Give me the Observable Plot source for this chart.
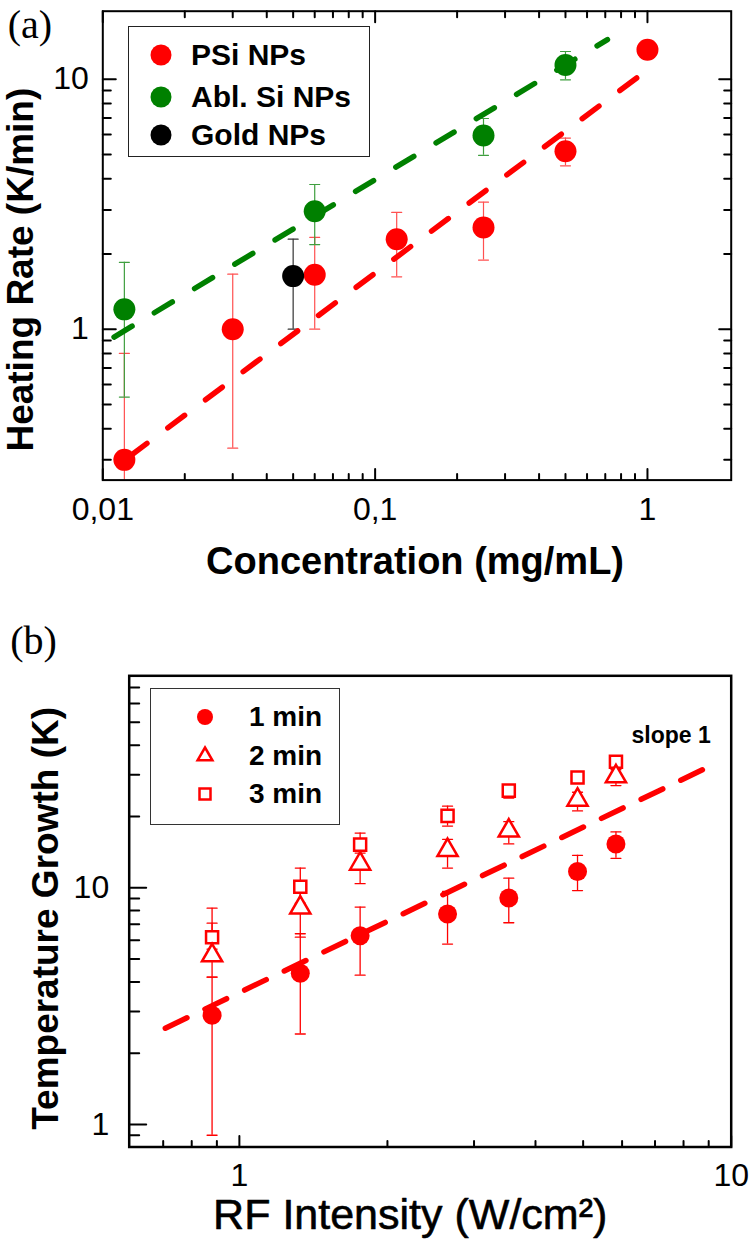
<!DOCTYPE html>
<html>
<head>
<meta charset="utf-8">
<script src="https://cdn.jsdelivr.net/npm/d3@7"></script>
<script src="https://cdn.jsdelivr.net/npm/@observablehq/plot@0.6"></script>
<style>
  body { margin: 0; background: #fff; }
  #wrap { position: relative; width: 749px; height: 1245px; overflow: hidden; background: #fff;
          font-family: "Liberation Sans", Arial, sans-serif; }
  .panel { position: absolute; left: 0; }
  .legend { position: absolute; background: #fff; box-sizing: border-box; }
  .legend .item { position: absolute; left: 0; height: 0; }
  .legend .item svg { position: absolute; overflow: visible; }
  .legend .item span { position: absolute; top: 0; transform: translateY(-50%); white-space: nowrap;
          font-weight: bold; color: #000; line-height: 1; }
</style>
</head>
<body>
<div id="wrap"></div>
<script>
// ---------------- Panel (a) data ----------------
const psiConc  = [0.012, 0.03, 0.06, 0.12, 0.25, 0.5, 1.0];
const psiRate  = [0.30, 1.00, 1.65, 2.29, 2.55, 5.15, 13.1];
const psiLow   = [0.20, 0.334, 1.00, 1.62, 1.89, 4.50, null];
const psiHigh  = [0.80, 1.66, 2.33, 2.93, 3.22, 5.81, null];

const ablConc  = [0.012, 0.06, 0.25, 0.5];
const ablRate  = [1.20, 2.96, 5.95, 11.4];
const ablLow   = [0.535, 2.18, 4.96, 9.94];
const ablHigh  = [1.85, 3.79, 6.96, 12.9];

const goldConc = [0.05];
const goldRate = [1.63];
const goldLow  = [1.00];
const goldHigh = [2.29];

const psiFitConc = [0.0126, 1.07];
const psiFitRate = [0.311, 11.5];
const ablFitConc = [0.0110, 0.713];
const ablFitRate = [0.93, 14.4];

const aLegendLabels = ["PSi NPs", "Abl. Si NPs", "Gold NPs"];
const aXTicks = [0.01, 0.1, 1];
const aXMinor = [0.02,0.03,0.04,0.05,0.06,0.07,0.08,0.09,0.2,0.3,0.4,0.5,0.6,0.7,0.8,0.9];
const aYTicks = [1, 10];
const aYMinor = [0.3,0.4,0.5,0.6,0.7,0.8,0.9,2,3,4,5,6,7,8,9];

// ---------------- Panel (b) data ----------------
const rfIntensity = [0.88, 1.33, 1.76, 2.65, 3.53, 4.87, 5.83];
const growth1     = [2.89, 4.35, 6.26, 7.74, 9.05, 11.7, 15.3];
const growth1Low  = [0.90, 2.41, 4.27, 5.78, 7.11, 9.72, 13.3];
const growth1High = [4.19, 6.39, 8.28, 9.64, 10.97, 13.7, 17.2];
const growth2     = [5.17, 8.23, 12.6, 14.4, 17.4, 23.5, 29.5];
const growth2Low  = [4.19, 6.18, 10.4, 12.1, 15.3, 21.1, 27.0];
const growth2High = [7.08, 9.80, 14.5, 16.0, 19.0, 25.3, 31.5];
const growth3     = [6.18, 10.1, 15.2, 20.1, 25.7, 29.2, 34.0];
const growth3Low  = [5.50, 8.60, 14.0, 18.2, 23.9, 28.0, 32.5];
const growth3High = [8.19, 12.1, 17.0, 22.1, 27.0, 30.4, 35.5];

const slopeFitRF     = [0.707, 9.14];
const slopeFitGrowth = [2.55, 32.9];
const slopeLabel  = ["slope 1"];
const slopeLabelX = [6.27];
const slopeLabelY = [41];

const bLegendLabels = ["1 min", "2 min", "3 min"];
const bXTicks = [1, 10];
const bXMinor = [0.7,0.8,0.9,2,3,4,5,6,7,8,9];
const bYTicks = [1, 10];
const bYMinor = [0.9,2,3,4,5,6,7,8,9,20,30,40,50,60,70];

// ---------------- helpers ----------------
const RED = "#ff0000", GREEN = "#008000";
const sans = '"Liberation Sans", Arial, sans-serif';
const serif = '"Liberation Serif", "Times New Roman", serif';
const rows = (xs, ys, lo, hi) => xs.map((x, i) => ({x, y: ys[i], lo: lo ? lo[i] : null, hi: hi ? hi[i] : null}));
const withErr = d => d.filter(r => r.lo != null && r.hi != null);
const fmt = d => String(d).replace(".", ",");

function ticks(values, side, len, sw) {
  const o = {length: len, r: 0, anchor: "start", stroke: "black", strokeWidth: sw};
  if (side === "bottom") return Plot.vector(values, {x: d => d, frameAnchor: "bottom", rotate: 0, ...o});
  if (side === "top") return Plot.vector(values, {x: d => d, frameAnchor: "top", rotate: 180, ...o});
  if (side === "left") return Plot.vector(values, {y: d => d, frameAnchor: "left", rotate: 90, ...o});
  return Plot.vector(values, {y: d => d, frameAnchor: "right", rotate: -90, ...o});
}
function errorBars(data, color, sw, cap) {
  const d = withErr(data);
  return [
    Plot.ruleX(d, {x: "x", y1: "lo", y2: "hi", stroke: color, strokeWidth: sw, clip: true}),
    Plot.vector(d, {x: "x", y: "hi", rotate: 90, length: cap, anchor: "middle", r: 0, stroke: color, strokeWidth: sw, clip: true}),
    Plot.vector(d, {x: "x", y: "lo", rotate: 90, length: cap, anchor: "middle", r: 0, stroke: color, strokeWidth: sw, clip: true})
  ];
}

const wrap = document.getElementById("wrap");

// ---------------- Panel (a) ----------------
const psi  = rows(psiConc, psiRate, psiLow, psiHigh);
const abl  = rows(ablConc, ablRate, ablLow, ablHigh);
const gold = rows(goldConc, goldRate, goldLow, goldHigh);
const psiFit = rows(psiFitConc, psiFitRate);
const ablFit = rows(ablFitConc, ablFitRate);

const plotA = Plot.plot({
  width: 749, height: 600,
  marginLeft: 102.3, marginRight: 18.3, marginTop: 10.7, marginBottom: 120.4,
  x: {type: "log", domain: [0.01, 2.03]},
  y: {type: "log", domain: [0.249, 18.7]},
  style: {fontFamily: sans, background: "transparent", color: "black", overflow: "visible"},
  marks: [
    ...errorBars(psi, "#ff5050", 1.2, 10),
    ...errorBars(abl, "#3f9f3f", 1.2, 10),
    ...errorBars(gold, "#333333", 1.2, 10),
    Plot.dot(psi, {x: "x", y: "y", r: 11, fill: RED}),
    Plot.dot(abl, {x: "x", y: "y", r: 11, fill: GREEN}),
    Plot.dot(gold, {x: "x", y: "y", r: 11, fill: "#000"}),
    Plot.line(ablFit, {x: "x", y: "y", stroke: GREEN, strokeWidth: 5.5, strokeDasharray: "21,26"}),
    Plot.line(psiFit, {x: "x", y: "y", stroke: RED, strokeWidth: 5.5, strokeDasharray: "21,26"}),
    ticks(aXTicks, "bottom", 11, 2), ticks(aXMinor, "bottom", 6, 2),
    ticks(aXTicks, "top", 11, 2), ticks(aXMinor, "top", 6, 2),
    ticks(aYTicks, "left", 13, 2), ticks(aYMinor, "left", 8, 2),
    ticks(aYTicks, "right", 12, 2), ticks(aYMinor, "right", 7, 2),
    Plot.frame({stroke: "black", strokeWidth: 2}),
    Plot.axisX(aXTicks, {anchor: "bottom", tickSize: 0, tickPadding: 17, tickFormat: fmt, fontSize: 32, label: null,
      stroke: "black", strokeWidth: 0.4, fill: "black"}),
    Plot.axisY(aYTicks, {anchor: "left", tickSize: 0, tickPadding: 14, tickFormat: fmt, fontSize: 32, label: null,
      stroke: "black", strokeWidth: 0.4, fill: "black"}),
    Plot.text(["Concentration (mg/mL)"], {frameAnchor: "bottom", text: d => d, dx: -2, dy: 94, lineAnchor: "bottom",
      textAnchor: "middle", fontSize: 38, fontWeight: "bold"}),
    Plot.text(["Heating Rate (K/min)"], {frameAnchor: "left", text: d => d, rotate: -90, dx: -70, dy: 24,
      textAnchor: "middle", lineAnchor: "bottom", fontSize: 37, fontWeight: "bold"}),
    Plot.text(["(a)"], {frameAnchor: "top-left", text: d => d, dx: -95, dy: 26.5, textAnchor: "start",
      lineAnchor: "bottom", fontSize: 40, fontFamily: serif})
  ]
});
const pa = document.createElement("div");
pa.className = "panel"; pa.style.top = "0px";
pa.appendChild(plotA);
wrap.appendChild(pa);

// ---------------- Panel (b) ----------------
const g1 = rows(rfIntensity, growth1, growth1Low, growth1High);
const g2 = rows(rfIntensity, growth2, growth2Low, growth2High);
const g3 = rows(rfIntensity, growth3, growth3Low, growth3High);
const slopeFit = rows(slopeFitRF, slopeFitGrowth);
const slopeText = slopeLabel.map((t, i) => ({t, x: slopeLabelX[i], y: slopeLabelY[i]}));

const plotB = Plot.plot({
  width: 749, height: 645,
  marginLeft: 128.7, marginRight: 18.3, marginTop: 75.3, marginBottom: 98.5,
  x: {type: "log", domain: [0.597, 10]},
  y: {type: "log", domain: [0.803, 78.5]},
  style: {fontFamily: sans, background: "transparent", color: "black", overflow: "visible"},
  marks: [
    ...errorBars(g3, RED, 1.3, 10),
    ...errorBars(g2, RED, 1.3, 10),
    ...errorBars(g1, RED, 1.3, 10),
    Plot.dot(g3, {x: "x", y: "y", symbol: "square", r: 6.8, stroke: RED, strokeWidth: 2.5, fill: "white"}),
    Plot.dot(g2, {x: "x", y: "y", symbol: "triangle", r: 7.5, stroke: RED, strokeWidth: 2.5, fill: "white"}),
    Plot.dot(g1, {x: "x", y: "y", r: 9.5, fill: RED}),
    Plot.line(slopeFit, {x: "x", y: "y", stroke: RED, strokeWidth: 5.5, strokeDasharray: "24,20"}),
    Plot.text(slopeText, {x: "x", y: "y", text: "t", textAnchor: "start", lineAnchor: "bottom",
      fontSize: 23, fontWeight: "bold"}),
    ticks(bXTicks, "bottom", 11, 2), ticks(bXMinor, "bottom", 6, 2),
    ticks(bYTicks, "left", 17, 2), ticks(bYMinor, "left", 10, 2),
    Plot.frame({stroke: "black", strokeWidth: 2.5}),
    Plot.axisX(bXTicks, {anchor: "bottom", tickSize: 0, tickPadding: 16, tickFormat: fmt, fontSize: 32, label: null,
      stroke: "black", strokeWidth: 0.4, fill: "black"}),
    Plot.axisY(bYTicks, {anchor: "left", tickSize: 0, tickPadding: 20, tickFormat: fmt, fontSize: 32, label: null,
      stroke: "black", strokeWidth: 0.4, fill: "black"}),
    Plot.text(["RF Intensity (W/cm²)"], {frameAnchor: "bottom", text: d => d, dx: -20, dy: 81.5, lineAnchor: "bottom",
      textAnchor: "middle", fontSize: 43, fill: "black", stroke: "black", strokeWidth: 0.6}),
    Plot.text(["Temperature Growth (K)"], {frameAnchor: "left", text: d => d, rotate: -90, dx: -71, dy: 7,
      textAnchor: "middle", lineAnchor: "bottom", fontSize: 37, fontWeight: "bold"}),
    Plot.text(["(b)"], {frameAnchor: "top-left", text: d => d, dx: -119, dy: -21.5, textAnchor: "start",
      lineAnchor: "bottom", fontSize: 40, fontFamily: serif})
  ]
});
const pb = document.createElement("div");
pb.className = "panel"; pb.style.top = "600px";
pb.appendChild(plotB);
wrap.appendChild(pb);

// ---------------- Legends (HTML overlays) ----------------
function makeLegend(box, items) {
  const lg = document.createElement("div");
  lg.className = "legend";
  Object.assign(lg.style, {left: box.left + "px", top: box.top + "px", width: box.width + "px",
    height: box.height + "px", border: box.border});
  items.forEach(it => {
    const row = document.createElement("div");
    row.className = "item";
    row.style.top = it.y + "px";
    row.style.width = "100%";
    const svg = document.createElementNS("http://www.w3.org/2000/svg", "svg");
    svg.setAttribute("width", 1); svg.setAttribute("height", 1);
    svg.style.left = it.mx + "px"; svg.style.top = "0px";
    svg.innerHTML = it.marker;
    row.appendChild(svg);
    const sp = document.createElement("span");
    sp.textContent = it.label;
    sp.style.left = it.tx + "px";
    sp.style.fontSize = it.fs + "px";
    row.appendChild(sp);
    lg.appendChild(row);
  });
  wrap.appendChild(lg);
}
const aColors = [RED, GREEN, "#000"];
makeLegend({left: 128, top: 26, width: 242, height: 131, border: "1.5px solid #222"},
  aLegendLabels.map((label, i) => ({label, y: [28, 70, 108][i], mx: 32, tx: 62, fs: 30,
    marker: `<circle cx="0" cy="0" r="10.5" fill="${aColors[i]}"/>`})));
const bMarkers = [
  `<circle cx="0" cy="0" r="8" fill="${RED}"/>`,
  `<path d="M0,-8.5L7.4,4.3L-7.4,4.3Z" fill="white" stroke="${RED}" stroke-width="2.5"/>`,
  `<rect x="-5.5" y="-5.5" width="11" height="11" fill="white" stroke="${RED}" stroke-width="2.5"/>`
];
makeLegend({left: 150, top: 688, width: 190, height: 137, border: "1px solid #333"},
  bLegendLabels.map((label, i) => ({label, y: [28, 67, 105][i], mx: 54, tx: 98, fs: 28, marker: bMarkers[i]})));
</script>
</body>
</html>
